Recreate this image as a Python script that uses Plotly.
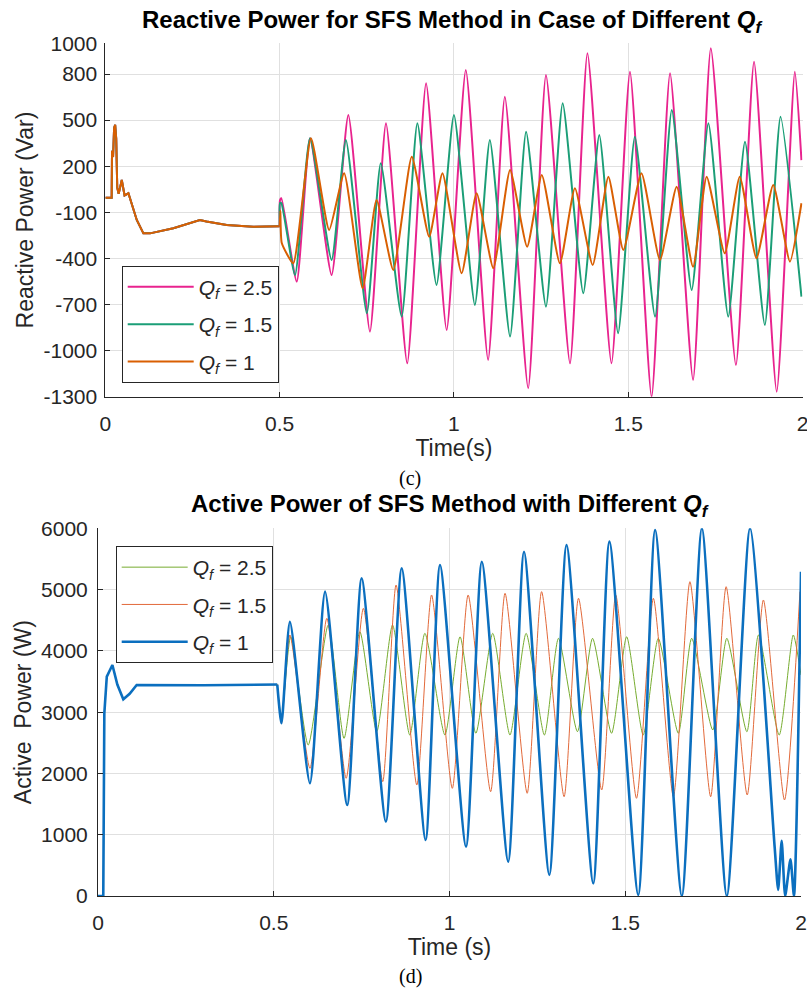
import plotly.graph_objects as go

# ---------------- data ----------------
# Top chart: reactive power (Var), common start-up part (identical for all Qf)
top_t_start = [0, 0.018, 0.019, 0.022, 0.025, 0.028, 0.031, 0.034, 0.038, 0.047, 0.055,
               0.066, 0.090, 0.109, 0.128, 0.195, 0.271, 0.290, 0.348, 0.424, 0.500]
top_q_start = [-5, -5, 300, 260, 450, 470, 380, 60, 20, 110, 10,
               24, -150, -237, -237, -204, -150, -160, -183, -194, -190]

top_t_qf25 = [0.50, 0.501, 0.505, 0.549, 0.587, 0.649, 0.697, 0.759, 0.805, 0.866, 0.920,
              0.979, 1.034, 1.098, 1.146, 1.213, 1.264, 1.333, 1.383, 1.452, 1.505, 1.567,
              1.620, 1.686, 1.737, 1.809, 1.861, 1.926, 1.978, 1.997]
top_q_qf25 = [-190, -20, -9, -551, 382, -508, 533, -877, 479, -1083, 740,
              -866, 826, -1061, 652, -1245, 794, -1083, 935, -1083, 815, -1300,
              805, -1191, 967, -1094, 880, -1267, 815, 240]

top_t_qf15 = [0.50, 0.501, 0.505, 0.544, 0.587, 0.649, 0.690, 0.750, 0.790, 0.850, 0.895,
              0.950, 1.000, 1.060, 1.103, 1.161, 1.207, 1.264, 1.312, 1.371, 1.417, 1.471,
              1.519, 1.577, 1.625, 1.682, 1.730, 1.787, 1.835, 1.892, 1.937, 1.997]
top_q_qf15 = [-190, -40, -41, -508, 382, -410, 371, -757, 219, -779, 479,
              -573, 533, -703, 371, -909, 425, -714, 610, -627, 403, -887,
              392, -779, 566, -606, 479, -779, 360, -833, 522, -649]

top_t_qf1 = [0.50, 0.502, 0.506, 0.539, 0.590, 0.642, 0.685, 0.738, 0.778, 0.826, 0.879,
             0.929, 0.967, 1.022, 1.065, 1.113, 1.161, 1.210, 1.252, 1.304, 1.347, 1.398,
             1.443, 1.486, 1.538, 1.591, 1.639, 1.686, 1.725, 1.777, 1.820, 1.868, 1.916,
             1.964, 1.997]
top_q_qf1 = [-190, -90, -300, -432, 382, -215, 154, -594, -20, -475, 262,
             -259, 154, -497, 24, -464, 175, -324, 143, -432, 56, -443,
             132, -345, 154, -410, 67, -454, 132, -367, 132, -399, 78,
             -421, -41]

# Bottom chart: active power (W), common start-up part
bot_t_start = [0, 0.015, 0.018, 0.025, 0.041, 0.055, 0.072, 0.090, 0.110, 0.300, 0.510]
bot_p_start = [0, 0, 2981, 3579, 3770, 3450, 3210, 3300, 3443, 3440, 3450]

bot_t_qf25 = [0.51, 0.522, 0.548, 0.598, 0.655, 0.700, 0.745, 0.793, 0.838, 0.887, 0.930,
              0.987, 1.030, 1.075, 1.123, 1.172, 1.218, 1.270, 1.310, 1.364, 1.407, 1.461,
              1.504, 1.551, 1.594, 1.651, 1.689, 1.749, 1.789, 1.846, 1.879, 1.938, 1.978, 2.0]
bot_p_qf25 = [3450, 2900, 4231, 2464, 4422, 2573, 4313, 2681, 4422, 2627, 4286,
              2627, 4231, 2655, 4286, 2627, 4286, 2627, 4205, 2681, 4205, 2655,
              4231, 2627, 4205, 2655, 4205, 2709, 4205, 2681, 4259, 2627, 4259, 3606]

bot_t_qf15 = [0.51, 0.522, 0.546, 0.603, 0.651, 0.706, 0.755, 0.810, 0.848, 0.907, 0.949,
              1.008, 1.053, 1.117, 1.158, 1.221, 1.262, 1.326, 1.367, 1.433, 1.473, 1.532,
              1.580, 1.637, 1.684, 1.743, 1.787, 1.847, 1.893, 1.953, 1.997]
bot_p_qf15 = [3450, 2818, 4259, 2084, 4531, 1921, 4694, 1866, 5075, 1811, 4912,
              1757, 4912, 1702, 4939, 1676, 4966, 1620, 4858, 1730, 4912, 1594,
              4858, 1620, 5129, 1620, 5047, 1648, 4830, 1567, 4966]

bot_t_qf1 = [0.51, 0.522, 0.546, 0.603, 0.646, 0.709, 0.750, 0.819, 0.864, 0.932, 0.973,
             1.047, 1.092, 1.167, 1.212, 1.284, 1.333, 1.409, 1.455, 1.537, 1.585, 1.661,
             1.718, 1.789, 1.855, 1.925, 1.935, 1.945, 1.955, 1.970, 1.980, 2.0]
bot_p_qf1 = [3450, 2818, 4476, 1839, 4966, 1485, 5184, 1213, 5347, 914, 5401,
             805, 5455, 560, 5618, 343, 5727, 207, 5782, 16, 5972, 0,
             6000, 0, 6000, 800, 100, 900, 0, 600, 0, 5292]

top_yticks = [1000, 800, 500, 200, -100, -400, -700, -1000, -1300]
bot_yticks = [0, 1000, 2000, 3000, 4000, 5000, 6000]
xticks = [0, 0.5, 1, 1.5, 2]
xticklabels = ["0", "0.5", "1", "1.5", "2"]
legend_labels = ["<i>Q</i><sub><i>f</i></sub> = 2.5",
                 "<i>Q</i><sub><i>f</i></sub> = 1.5",
                 "<i>Q</i><sub><i>f</i></sub> = 1"]

# ---------------- styling ----------------
top_colors = ["#E8238E", "#1B9E77", "#D95F02"]
bot_colors = ["#77AC30", "#E2693A", "#0B6FBF"]
bot_widths = [1, 1, 2.6]
FONT = "Liberation Sans, Arial, Helvetica, sans-serif"
SERIF = "Liberation Serif, Times New Roman, serif"
AX = "#262626"
GRID = "#E0E0E0"

fig = go.Figure()

top_series = [(top_t_qf25, top_q_qf25), (top_t_qf15, top_q_qf15), (top_t_qf1, top_q_qf1)]
for i, (tt, qq) in enumerate(top_series):
    fig.add_trace(go.Scatter(x=top_t_start, y=top_q_start, mode="lines",
                             line=dict(color=top_colors[i], width=2),
                             legendgroup=f"top{i}", showlegend=False,
                             xaxis="x", yaxis="y", hoverinfo="skip"))
for i, (tt, qq) in enumerate(top_series):
    fig.add_trace(go.Scatter(x=tt, y=qq, mode="lines", name=legend_labels[i],
                             line=dict(color=top_colors[i], width=2, shape="spline", smoothing=0.5),
                             legendgroup=f"top{i}", legend="legend",
                             xaxis="x", yaxis="y"))

bot_series = [(bot_t_qf25, bot_p_qf25), (bot_t_qf15, bot_p_qf15), (bot_t_qf1, bot_p_qf1)]
for i, (tt, pp) in enumerate(bot_series):
    fig.add_trace(go.Scatter(x=bot_t_start, y=bot_p_start, mode="lines",
                             line=dict(color=bot_colors[i], width=bot_widths[i]),
                             legendgroup=f"bot{i}", showlegend=False,
                             xaxis="x2", yaxis="y2", hoverinfo="skip"))
for i, (tt, pp) in enumerate(bot_series):
    fig.add_trace(go.Scatter(x=tt, y=pp, mode="lines", name=legend_labels[i],
                             line=dict(color=bot_colors[i], width=bot_widths[i],
                                       shape="spline", smoothing=0.6),
                             legendgroup=f"bot{i}", legend="legend2",
                             xaxis="x2", yaxis="y2"))

W, H = 807, 990
def px_x(p):
    return p / W
def px_y(p):
    return 1 - p / H

axis_common = dict(showline=True, linecolor=AX, linewidth=1, ticks="inside",
                   ticklen=5, tickcolor=AX, showgrid=True, gridcolor=GRID,
                   gridwidth=1, zeroline=False, automargin=False,
                   ticklabeloverflow="allow",
                   tickfont=dict(family=FONT, size=21, color=AX))

fig.update_layout(
    width=W, height=H,
    margin=dict(l=0, r=0, t=0, b=0),
    paper_bgcolor="white", plot_bgcolor="white",
    font=dict(family=FONT, color=AX),
    xaxis=dict(domain=[px_x(105.4), px_x(802.5)], range=[0, 2], tickvals=xticks,
               ticktext=xticklabels, anchor="y", ticklabelstandoff=8,
               title=dict(text="Time(s)", font=dict(family=FONT, size=23, color=AX), standoff=3),
               **axis_common),
    yaxis=dict(domain=[px_y(396.7), px_y(43.3)], range=[-1300, 1000], tickvals=top_yticks,
               ticktext=[str(v) for v in top_yticks], anchor="x", ticklabelstandoff=3,
               title=dict(text="Reactive Power (Var)", font=dict(family=FONT, size=23, color=AX), standoff=3),
               **axis_common),
    xaxis2=dict(domain=[px_x(98), px_x(801)], range=[0, 2], tickvals=xticks,
                ticktext=xticklabels, anchor="y2", ticklabelstandoff=8,
                title=dict(text="Time (s)", font=dict(family=FONT, size=23, color=AX), standoff=3),
                **axis_common),
    yaxis2=dict(domain=[px_y(896), px_y(528.3)], range=[0, 6000], tickvals=bot_yticks,
                ticktext=[str(v) for v in bot_yticks], anchor="x2", ticklabelstandoff=5,
                title=dict(text="Active\u00a0 Power (W)", font=dict(family=FONT, size=23, color=AX), standoff=3),
                **axis_common),
    legend=dict(x=px_x(121.7), y=px_y(265.7), xanchor="left", yanchor="top",
                bgcolor="white", bordercolor=AX, borderwidth=1,
                font=dict(family=FONT, size=21, color=AX), itemwidth=66,
                traceorder="grouped", tracegroupgap=7),
    legend2=dict(x=px_x(115.7), y=px_y(546), xanchor="left", yanchor="top",
                 bgcolor="white", bordercolor=AX, borderwidth=1,
                 font=dict(family=FONT, size=21, color=AX), itemwidth=66,
                 traceorder="grouped", tracegroupgap=7),
    showlegend=True,
)

fig.add_annotation(text="<b>Reactive Power for SFS Method in Case of Different <i>Q<sub>f</sub></i></b>",
                   x=px_x(452), y=px_y(21), xref="paper", yref="paper", showarrow=False,
                   xanchor="center", yanchor="middle",
                   font=dict(family=FONT, size=24, color="#000000"))
fig.add_annotation(text="<b>Active Power of SFS Method with Different <i>Q<sub>f</sub></i></b>",
                   x=px_x(450), y=px_y(506), xref="paper", yref="paper", showarrow=False,
                   xanchor="center", yanchor="middle",
                   font=dict(family=FONT, size=24, color="#000000"))
fig.add_annotation(text="(c)", x=px_x(410), y=px_y(478), xref="paper", yref="paper",
                   showarrow=False, xanchor="center", yanchor="middle",
                   font=dict(family=SERIF, size=20, color="#000000"))
fig.add_annotation(text="(d)", x=px_x(410), y=px_y(976), xref="paper", yref="paper",
                   showarrow=False, xanchor="center", yanchor="middle",
                   font=dict(family=SERIF, size=20, color="#000000"))

fig.write_html("out.html")
